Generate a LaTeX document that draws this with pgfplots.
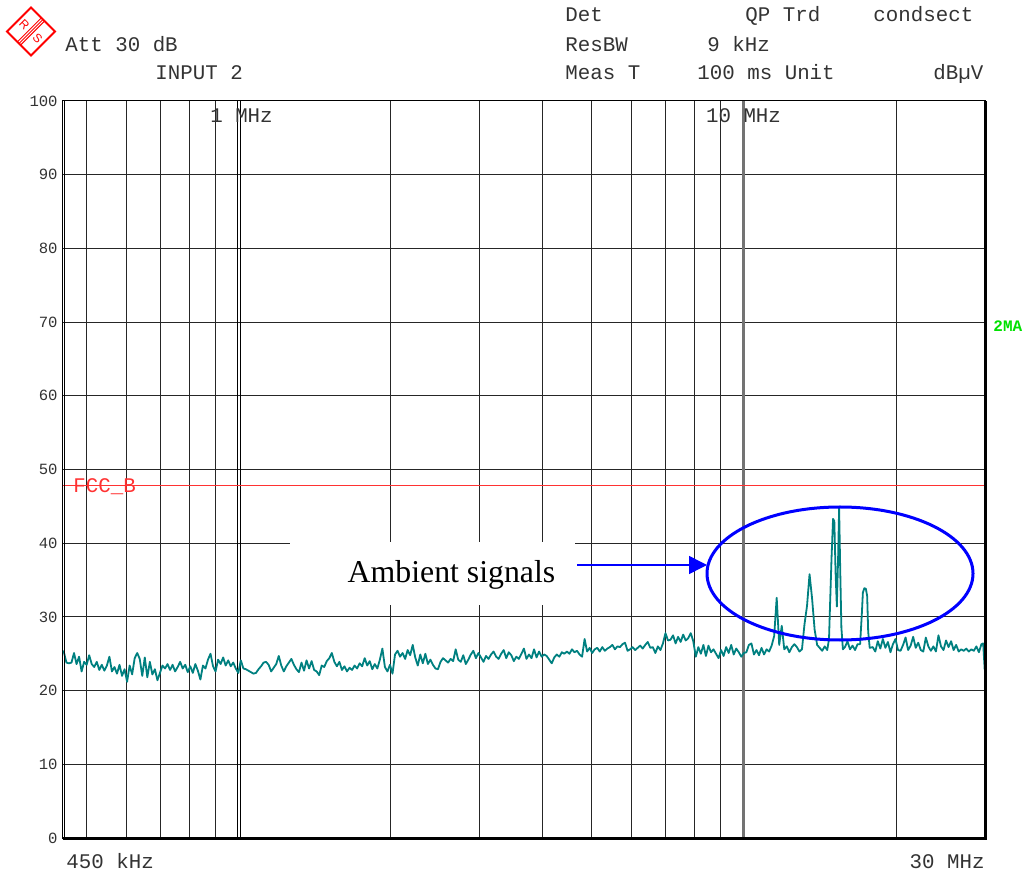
\documentclass[border=0pt]{standalone}
\usepackage{fontspec}
\setmainfont{Liberation Mono}
\newfontfamily\timesfont{Liberation Serif}
\newfontfamily\logofont{Liberation Sans}
\usepackage{pgfplots}
\pgfplotsset{compat=1.18}
\usetikzlibrary{arrows.meta}
\definecolor{trace}{RGB}{0,128,128}
\definecolor{limred}{RGB}{255,50,50}
\definecolor{markgreen}{RGB}{0,225,0}
\definecolor{annblue}{RGB}{0,0,255}
\begin{document}
\begin{tikzpicture}
\path[use as bounding box] (-31.5pt,-17pt) rectangle (481.5pt,419pt);
\begin{axis}[
  at={(0pt,0pt)}, anchor=south west,
  scale only axis, width=461pt, height=368.5pt,
  xmin=-0.3468, xmax=1.4771, ymin=0, ymax=100,
  xtick={-0.30103,-0.22185,-0.15490,-0.09691,-0.04576,0.30103,0.47712,0.60206,0.69897,0.77815,0.84510,0.90309,0.95424,1.30103},
  xticklabels={},
  ytick={0,10,...,100},
  major tick length=0pt,
  grid=major,
  major grid style={black!85, line width=0.5pt},
  axis line style={black, line width=0.5pt},
  yticklabel style={font=\fontsize{7.8}{9}\selectfont, text=black!80, inner sep=0pt, xshift=-2.5pt},
  /pgf/number format/assume math mode=true,
]
\draw[black, line width=0.5pt] (axis cs:-0.0015,0) -- (axis cs:-0.0015,100);
\draw[black, line width=0.5pt] (axis cs:0.0045,0) -- (axis cs:0.0045,100);
\draw[black!55, line width=1.5pt] (axis cs:1,0) -- (axis cs:1,100);
\addplot[limred, line width=0.5pt] coordinates {(-0.3468,47.8) (1.4771,47.8)};
\addplot[trace, line width=0.9pt, line join=round] coordinates {
(-0.3468,25.4)
(-0.345,25.2) (-0.340,23.8) (-0.335,23.7) (-0.330,23.8) (-0.325,25.1) (-0.320,23.6) (-0.315,24.6) (-0.310,22.6) (-0.305,23.9) (-0.300,23.5)
(-0.295,24.8) (-0.290,23.6) (-0.285,23.2) (-0.280,23.9) (-0.275,22.8) (-0.270,23.5) (-0.265,22.7) (-0.260,23.4) (-0.255,24.6) (-0.250,22.6)
(-0.245,23.2) (-0.240,22.3) (-0.235,23.5) (-0.230,22.0) (-0.225,22.9) (-0.220,21.2) (-0.215,23.4) (-0.210,22.2) (-0.205,24.4) (-0.200,25.1)
(-0.195,24.3) (-0.190,22.0) (-0.185,24.5) (-0.180,21.8) (-0.175,23.9) (-0.170,22.2) (-0.165,22.9) (-0.160,21.4) (-0.155,22.4) (-0.150,23.4)
(-0.145,23.0) (-0.140,23.6) (-0.135,22.8) (-0.130,23.5) (-0.125,22.6) (-0.120,23.2) (-0.115,23.9) (-0.110,23.0) (-0.105,23.5) (-0.100,22.5)
(-0.095,23.3) (-0.090,22.4) (-0.085,23.6) (-0.080,22.7) (-0.075,21.5) (-0.070,23.4) (-0.065,23.0) (-0.060,24.2) (-0.055,25.0) (-0.050,23.3)
(-0.045,22.6) (-0.040,24.2) (-0.035,23.6) (-0.030,24.5) (-0.025,23.4) (-0.020,24.1) (-0.015,23.3) (-0.010,23.8) (-0.005,23.0) (0.000,22.4)
(0.005,24.1) (0.010,23.0) (0.015,22.9) (0.020,22.7) (0.025,22.5) (0.030,22.3) (0.035,22.4) (0.040,22.9) (0.045,23.3) (0.050,23.8)
(0.055,23.9) (0.060,23.5) (0.065,22.6) (0.070,23.1) (0.075,23.6) (0.080,24.7) (0.085,23.4) (0.090,22.6) (0.095,23.3) (0.100,23.8)
(0.105,24.3) (0.110,23.5) (0.115,22.9) (0.120,22.5) (0.125,23.8) (0.130,22.7) (0.135,24.1) (0.140,23.0) (0.145,24.0) (0.150,22.8)
(0.155,22.6) (0.160,22.1) (0.165,23.4) (0.170,23.2) (0.175,24.0) (0.180,24.4) (0.185,25.1) (0.190,23.9) (0.195,23.3) (0.200,23.9)
(0.205,22.8) (0.210,23.3) (0.215,22.6) (0.220,23.1) (0.225,22.8) (0.230,23.4) (0.235,23.0) (0.240,23.7) (0.245,23.3) (0.250,24.4)
(0.255,23.4) (0.260,24.0) (0.265,22.9) (0.270,23.6) (0.275,23.0) (0.280,24.2) (0.285,25.7) (0.290,23.2) (0.295,22.6) (0.300,23.5)
(0.305,22.3) (0.310,24.9) (0.315,25.4) (0.320,24.6) (0.325,25.1) (0.330,24.3) (0.335,25.5) (0.340,24.8) (0.345,26.2) (0.350,24.5)
(0.355,23.4) (0.360,24.9) (0.365,23.7) (0.370,25.0) (0.375,23.6) (0.380,24.2) (0.385,23.5) (0.390,23.0) (0.395,22.9) (0.400,23.9)
(0.405,24.4) (0.410,24.1) (0.415,23.8) (0.420,24.3) (0.425,24.0) (0.430,25.6) (0.435,24.2) (0.440,23.9) (0.445,24.8) (0.450,23.6)
(0.455,24.2) (0.460,24.9) (0.465,25.4) (0.470,24.4) (0.475,25.1) (0.480,24.5) (0.485,23.9) (0.490,24.7) (0.495,24.3) (0.500,24.9)
(0.505,25.3) (0.510,24.6) (0.515,24.3) (0.520,25.0) (0.525,25.5) (0.530,24.4) (0.535,25.2) (0.540,24.8) (0.545,24.0) (0.550,24.6)
(0.555,24.3) (0.560,25.0) (0.565,25.7) (0.570,24.3) (0.575,24.9) (0.580,24.4) (0.585,25.6) (0.590,24.5) (0.595,25.3) (0.600,24.6)
(0.605,24.9) (0.610,24.7) (0.615,24.2) (0.620,23.7) (0.625,24.5) (0.630,24.9) (0.635,24.6) (0.640,25.2) (0.645,25.0) (0.650,25.3)
(0.655,25.0) (0.660,25.6) (0.665,25.2) (0.670,25.4) (0.675,24.9) (0.680,24.6) (0.685,27.0) (0.690,25.3) (0.695,25.8) (0.700,25.1)
(0.705,25.6) (0.710,25.8) (0.715,25.3) (0.720,25.9) (0.725,25.4) (0.730,25.7) (0.735,25.9) (0.740,26.2) (0.745,25.6) (0.750,26.0)
(0.755,25.9) (0.760,26.3) (0.765,26.5) (0.770,25.4) (0.775,25.6) (0.780,25.9) (0.785,25.5) (0.790,25.8) (0.795,26.1) (0.800,25.7)
(0.805,26.2) (0.810,26.6) (0.815,25.8) (0.820,25.9) (0.825,25.1) (0.830,26.0) (0.835,25.5) (0.840,26.4) (0.845,27.8) (0.850,26.8)
(0.855,26.9) (0.860,27.5) (0.865,26.4) (0.870,27.3) (0.875,26.6) (0.880,27.6) (0.885,26.8) (0.890,27.1) (0.895,27.8) (0.900,26.7)
(0.905,24.6) (0.910,25.9) (0.915,25.0) (0.920,26.2) (0.925,24.7) (0.930,26.1) (0.935,25.2) (0.940,25.6) (0.945,25.0) (0.950,24.4)
(0.955,25.5) (0.960,24.7) (0.965,25.9) (0.970,25.1) (0.975,26.2) (0.980,24.9) (0.985,25.7) (0.990,25.2) (0.995,24.6) (1.000,25.1)
(1.005,25.2) (1.010,26.2) (1.015,26.4) (1.020,24.9) (1.025,25.5) (1.030,24.8) (1.035,25.8) (1.040,24.9) (1.045,25.6) (1.050,25.3)
(1.055,26.1) (1.060,27.4) (1.065,32.6) (1.070,26.2) (1.075,28.8) (1.080,25.6) (1.085,26.0) (1.090,25.2) (1.095,25.9) (1.100,26.3)
(1.105,25.9) (1.110,25.3) (1.115,25.6) (1.120,29.0) (1.125,31.5) (1.130,35.8) (1.135,32.5) (1.140,28.3) (1.145,26.2) (1.150,25.8)
(1.155,25.4) (1.160,26.0) (1.165,25.5)
(1.1685,27.0) (1.1705,31.5) (1.1735,38.0) (1.1765,43.3) (1.1790,43.0) (1.1815,36.0) (1.1840,31.4) (1.1865,38.0) (1.1885,44.8) (1.1905,37.0) (1.1930,28.5) (1.1960,25.6)
(1.200,25.9) (1.205,26.7) (1.210,25.6) (1.215,26.1) (1.220,25.5) (1.225,26.3)
(1.2300,26.3) (1.2335,30.5) (1.2355,33.3) (1.2385,33.9) (1.2415,33.8) (1.2440,32.8) (1.2460,28.0) (1.2490,25.8)
(1.255,25.9) (1.260,25.3) (1.265,26.7) (1.270,25.7) (1.275,27.0) (1.280,25.8) (1.285,26.6) (1.290,25.2) (1.295,26.3) (1.300,27.0)
(1.305,25.5) (1.310,25.4) (1.315,26.2) (1.320,27.2) (1.325,25.5) (1.330,26.1) (1.335,27.3) (1.340,25.8) (1.345,26.5) (1.350,25.5)
(1.355,25.3) (1.360,27.2) (1.365,26.0) (1.370,25.4) (1.375,26.0) (1.380,25.3) (1.385,27.5) (1.390,26.0) (1.395,25.5) (1.400,26.8)
(1.405,25.9) (1.410,26.7) (1.415,25.5) (1.420,26.2) (1.425,25.3) (1.430,25.6) (1.435,25.4) (1.440,25.7) (1.445,25.3) (1.450,25.6)
(1.455,25.4) (1.460,26.0) (1.465,25.2) (1.470,26.3) (1.4735,26.4) (1.4765,22.8)
};
\end{axis}
% borders
\draw[black, line width=1.5pt] (0pt,0pt) -- (461pt,0pt);
\draw[black, line width=1.5pt] (461pt,-0.75pt) -- (461pt,368.5pt);
\draw[black, line width=0.5pt] (1pt,0pt) -- (1pt,368.5pt);
% logo
\draw[red, line width=0.9pt] (-28pt,403.25pt) -- (-16pt,415.25pt) -- (-4pt,403.25pt) -- (-16pt,391.25pt) -- cycle;
\draw[red, line width=0.5pt] (-22pt,397.25pt) -- (-10pt,409.25pt);
\draw[red, line width=0.5pt] (-21.2pt,396.45pt) -- (-9.2pt,408.45pt);
\draw[red, line width=0.5pt] (-22.8pt,398.05pt) -- (-10.8pt,410.05pt);
\node[text=red, font=\logofont\fontsize{6}{6}\selectfont, inner sep=0pt, rotate=-45] at (-19.3pt,406.5pt) {R};
\node[text=red, font=\logofont\fontsize{6}{6}\selectfont, inner sep=0pt, rotate=-45] at (-12.7pt,400pt) {S};
% header
\begin{scope}[every node/.style={anchor=base west, inner sep=0pt, text=black!80, font=\fontsize{10.4}{12}\selectfont}]
\node at (1pt,393pt) {Att 30 dB};
\node at (46pt,379pt) {INPUT 2};
\node at (251pt,408pt) {Det};
\node at (341pt,408pt) {QP Trd};
\node at (405pt,408pt) {condsect};
\node at (251pt,393pt) {ResBW};
\node at (322pt,393pt) {9 kHz};
\node at (251pt,379pt) {Meas T};
\node at (317pt,379pt) {100 ms Unit};
\node at (435pt,379pt) {dBµV};
\node at (1.5pt,-15pt) {450 kHz};
\node[anchor=base east] at (461pt,-15pt) {30 MHz};
\node[anchor=base] at (89.25pt,357.5pt) {1 MHz};
\node[anchor=base] at (340.25pt,357.5pt) {10 MHz};
\node[text=limred] at (5pt,172.5pt) {FCC\_B};
\node[text=markgreen, font=\bfseries\fontsize{8}{9}\selectfont] at (465pt,253pt) {2MA};
\end{scope}
% annotation
\fill[white] (113.5pt,116.5pt) rectangle (256pt,148pt);
\node[anchor=base, inner sep=0pt, font=\timesfont\fontsize{15.9}{18}\selectfont] at (194.25pt,127.5pt) {Ambient signals};
\draw[annblue, line width=0.75pt, -{Triangle[length=9pt,width=9pt]}] (257pt,136.5pt) -- (322pt,136.5pt);
\draw[annblue, line width=1.5pt] (388.5pt,132.25pt) ellipse [x radius=66.5pt, y radius=33.25pt];
\end{tikzpicture}
\end{document}
